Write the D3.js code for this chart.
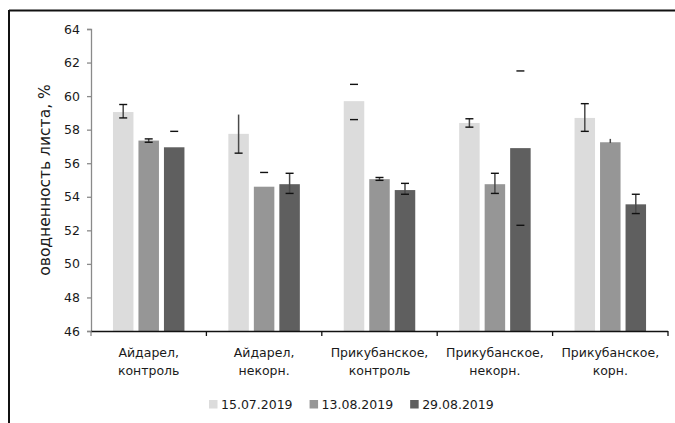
<!DOCTYPE html>
<html>
<head>
<meta charset="utf-8">
<script src="https://cdn.jsdelivr.net/npm/d3@7/dist/d3.min.js"></script>
<style>
  html, body { margin: 0; padding: 0; background: #fff; }
  svg { display: block; }
  text { font-family: "DejaVu Sans", sans-serif; fill: #1a1a1a; }
</style>
</head>
<body>
<svg id="chart" width="675" height="423"></svg>
<script>
// ---- data ----
const categories = [
  ["Айдарел,", "контроль"],
  ["Айдарел,", "некорн."],
  ["Прикубанское,", "контроль"],
  ["Прикубанское,", "некорн."],
  ["Прикубанское,", "корн."]
];
const seriesNames = ["15.07.2019", "13.08.2019", "29.08.2019"];
const s1 = [59.05, 57.75, 59.7, 58.4, 58.7];
const s2 = [57.35, 54.6, 55.05, 54.75, 57.25];
const s3 = [56.95, 54.75, 54.4, 56.9, 53.55];
// error bar ends (low, high); null = not shown
const s1Lo = [58.7, 56.6, 58.6, 58.15, 57.9];
const s1Hi = [59.5, 58.9, 60.7, 58.65, 59.55];
const s2Lo = [57.25, null, 54.98, 54.2, 57.2];
const s2Hi = [57.45, 55.45, 55.15, 55.4, 57.45];
const s3Lo = [null, 54.2, 54.15, 52.3, 53.0];
const s3Hi = [57.9, 55.4, 54.8, 61.5, 54.15];
// which parts of each error bar are visible
const s1Kind = ["full", "lowCap", "caps", "full", "full"];
const s2Kind = ["full", "caps", "full", "full", "stem"];
const s3Kind = ["caps", "full", "full", "caps", "full"];
const yTicks = [46, 48, 50, 52, 54, 56, 58, 60, 62, 64];
const yTitle = "оводненность листа, %";

const seriesVals = [s1, s2, s3];
const seriesLo = [s1Lo, s2Lo, s3Lo];
const seriesHi = [s1Hi, s2Hi, s3Hi];
const seriesKind = [s1Kind, s2Kind, s3Kind];
const colors = ["#dcdcdc", "#969696", "#5f5f5f"];

const svg = d3.select("#chart");

// frame
svg.append("line").attr("x1", 9).attr("x2", 675).attr("y1", 10.5).attr("y2", 10.5)
  .attr("stroke", "#111").attr("stroke-width", 2);
svg.append("line").attr("x1", 9).attr("x2", 9).attr("y1", 10).attr("y2", 423)
  .attr("stroke", "#111").attr("stroke-width", 2);

const x0 = 91, x1 = 668, yTop = 29, yBot = 331;
const y = d3.scaleLinear().domain([46, 64]).range([yBot, yTop]);
const xCat = d3.scaleBand().domain(d3.range(categories.length)).range([x0, x1]).padding(0);
const groupW = 71.5;
const xSer = d3.scaleBand().domain(d3.range(3)).range([0, groupW]).paddingInner(0.196).paddingOuter(0);

// y axis
const yAxis = d3.axisLeft(y).tickValues(yTicks).tickSize(4).tickPadding(7).tickFormat(d3.format("d"));
const gy = svg.append("g").attr("transform", `translate(${x0},0)`).call(yAxis);
gy.select(".domain").attr("stroke", "#8a8a8a").attr("stroke-width", 1.3);
gy.selectAll(".tick line").attr("stroke", "#8a8a8a").attr("stroke-width", 1.3);
gy.selectAll(".tick text").style("font-family", "DejaVu Sans").style("font-size", "12.5px").attr("fill", "#222");

// bars
categories.forEach((c, i) => {
  const gx = xCat(i) + xCat.bandwidth() / 2 - groupW / 2;
  seriesVals.forEach((vals, s) => {
    svg.append("rect")
      .attr("x", gx + xSer(s))
      .attr("y", y(vals[i]))
      .attr("width", xSer.bandwidth())
      .attr("height", y(46) - y(vals[i]))
      .attr("fill", colors[s]);
  });
});

// x axis
const xAxisLine = svg.append("g");
xAxisLine.append("line").attr("x1", x0).attr("x2", x1).attr("y1", yBot + 0.5).attr("y2", yBot + 0.5)
  .attr("stroke", "#111").attr("stroke-width", 1.3);
d3.range(categories.length + 1).forEach(k => {
  const xx = k < categories.length ? xCat(k) : x1;
  xAxisLine.append("line").attr("x1", xx).attr("x2", xx).attr("y1", yBot).attr("y2", yBot + 5)
    .attr("stroke", k === 0 ? "#8a8a8a" : "#111").attr("stroke-width", 1.3);
});

// error bars
const capW = 8;
categories.forEach((c, i) => {
  const gx = xCat(i) + xCat.bandwidth() / 2 - groupW / 2;
  seriesVals.forEach((vals, s) => {
    const cx = gx + xSer(s) + xSer.bandwidth() / 2;
    const lo = seriesLo[s][i], hi = seriesHi[s][i], kind = seriesKind[s][i];
    const g = svg.append("g");
    if ((kind === "full" || kind === "stem" || kind === "lowCap") && lo != null && hi != null) {
      g.append("line").attr("x1", cx).attr("x2", cx).attr("y1", y(hi)).attr("y2", y(lo))
        .attr("stroke", "#4a4a4a").attr("stroke-width", 1.5);
    }
    const caps = [];
    if (kind === "full" || kind === "caps") { if (lo != null) caps.push(lo); if (hi != null) caps.push(hi); }
    if (kind === "lowCap" && lo != null) caps.push(lo);
    caps.forEach(v => {
      g.append("line").attr("x1", cx - capW / 2).attr("x2", cx + capW / 2).attr("y1", y(v)).attr("y2", y(v))
        .attr("stroke", "#111").attr("stroke-width", 1.4);
    });
  });
});

// category labels
categories.forEach((c, i) => {
  const cx = xCat(i) + xCat.bandwidth() / 2;
  c.forEach((line, li) => {
    svg.append("text").attr("x", cx).attr("y", 357 + li * 17.5)
      .attr("text-anchor", "middle").style("font-size", "12.5px").text(line);
  });
});

// y title
svg.append("text")
  .attr("transform", `translate(50,${(yTop + yBot) / 2}) rotate(-90)`)
  .attr("text-anchor", "middle").style("font-size", "15.5px").text(yTitle);

// legend
let lx = 209;
seriesNames.forEach((n, s) => {
  svg.append("rect").attr("x", lx).attr("y", 400).attr("width", 8.5).attr("height", 8.5).attr("fill", colors[s]);
  const t = svg.append("text").attr("x", lx + 12).attr("y", 408.5).style("font-size", "12.5px").text(n);
  lx += 12 + t.node().getComputedTextLength() + 17;
});
</script>
</body>
</html>
